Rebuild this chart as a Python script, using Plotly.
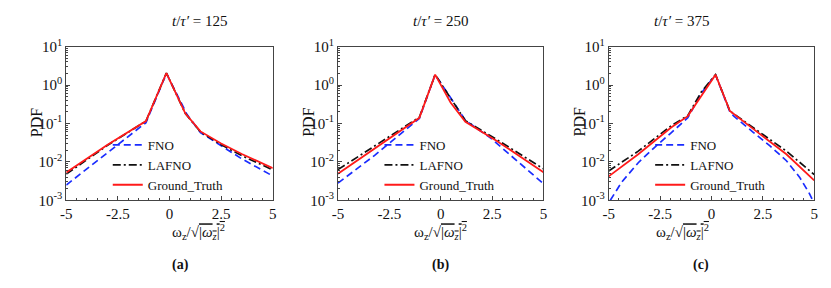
import plotly.graph_objects as go

# ---------------- data ----------------
panel_titles = ["125", "250", "375"]
panel_tags = ["(a)", "(b)", "(c)"]
x_ticks = [-5, -2.5, 0, 2.5, 5]
x_tick_labels = ["-5", "-2.5", "0", "2.5", "5"]
y_ticks = [1e-3, 1e-2, 1e-1, 1e0, 1e1]
y_tick_labels = ["10<sup>-3</sup>", "10<sup>-2</sup>", "10<sup>-1</sup>",
                 "10<sup>0</sup>", "10<sup>1</sup>"]

# panel (a)  t/tau' = 125
fno_a_x = [-5, -3, -1.14, -0.15, 0.5, 0.85, 1.5, 2.5, 3.5, 5]
fno_a_y = [2.5e-3, 0.017, 0.105, 2.0, 0.42, 0.17, 0.058, 0.026, 0.012, 4.3e-3]
lafno_a_x = [-5, -3, -1.14, -0.15, 0.77, 1.5, 2.5, 3.5, 5]
lafno_a_y = [4.8e-3, 0.027, 0.115, 2.05, 0.18, 0.06, 0.028, 0.0145, 6.2e-3]
gt_a_x = [-5, -3, -1.14, -0.15, 0.77, 1.5, 2.5, 3.5, 5]
gt_a_y = [5.3e-3, 0.028, 0.115, 2.05, 0.18, 0.062, 0.030, 0.016, 6.9e-3]

# panel (b)  t/tau' = 250
fno_b_x = [-5, -3.2, -1.04, -0.27, 0.5, 1.2, 2.4, 5]
fno_b_y = [2.8e-3, 0.015, 0.135, 1.86, 0.45, 0.12, 0.043, 2.7e-3]
lafno_b_x = [-5, -3, -1.04, -0.27, 0.5, 1.2, 2.73, 5]
lafno_b_y = [6.3e-3, 0.03, 0.145, 1.86, 0.43, 0.118, 0.038, 6.6e-3]
gt_b_x = [-5, -1.84, -1.04, -0.27, 0.48, 1.2, 2.73, 5]
gt_b_y = [4.9e-3, 0.074, 0.14, 1.86, 0.35, 0.11, 0.035, 5.4e-3]

# panel (c)  t/tau' = 375
fno_c_x = [-4.92, -4.36, -3.56, -2.76, -1.96, -1.15, -0.5, 0.2, 0.9, 1.09, 2.05, 2.85,
           3.65, 4.29, 4.77, 4.93]
fno_c_y = [1.0e-3, 3.0e-3, 9.5e-3, 0.024, 0.057, 0.14, 0.6, 1.86, 0.2, 0.155, 0.058,
           0.026, 0.0107, 4.0e-3, 1.5e-3, 1.0e-3]
lafno_c_x = [-5, -3.56, -1.96, -1.15, -0.5, 0.2, 0.9, 2.05, 3.65, 5]
lafno_c_y = [5.8e-3, 0.019, 0.087, 0.16, 0.65, 1.86, 0.21, 0.076, 0.019, 4.7e-3]
gt_c_x = [-5, -3.56, -1.96, -1.15, 0.2, 0.9, 2.05, 3.65, 5]
gt_c_y = [4.2e-3, 0.0158, 0.078, 0.155, 1.86, 0.21, 0.071, 0.0158, 3.3e-3]

panels = [
    (fno_a_x, fno_a_y, lafno_a_x, lafno_a_y, gt_a_x, gt_a_y),
    (fno_b_x, fno_b_y, lafno_b_x, lafno_b_y, gt_b_x, gt_b_y),
    (fno_c_x, fno_c_y, lafno_c_x, lafno_c_y, gt_c_x, gt_c_y),
]
series_names = ["FNO", "LAFNO", "Ground_Truth"]

# ---------------- style / layout ----------------
W, H = 831, 288
FONT = "Liberation Serif, Times New Roman, serif"
x_doms = [(61, 270), (336, 544), (610, 818)]
y_top, y_bot = 39, 203


def px_x(x):
    return x / W


def px_y(y):
    return 1 - y / H


styles = [dict(color="#1a2cff", dash="7px,4px", width=1.7),
          dict(color="#111111", dash="8px,3px,2px,3px", width=1.7),
          dict(color="#ff1a1a", dash="solid", width=1.8)]

minor_y = [m * 10 ** e for e in range(-3, 1) for m in range(2, 10)]

fig = go.Figure()
annotations = []
for i, p in enumerate(panels):
    sfx = "" if i == 0 else str(i + 1)
    legend_id = "legend" + sfx
    for k in range(3):
        fig.add_trace(go.Scatter(
            x=p[2 * k], y=p[2 * k + 1], mode="lines", name=series_names[k],
            line=styles[k], xaxis="x" + sfx, yaxis="y" + sfx,
            legend=legend_id, showlegend=True, cliponaxis=True))
    x0, x1 = x_doms[i]
    common = dict(showline=True, linecolor="#444", linewidth=1, mirror=True,
                  ticks="inside", ticklen=4, tickcolor="#444", showgrid=False,
                  zeroline=False, tickfont=dict(family=FONT, size=15, color="#111"))
    fig.update_layout(**{
        "xaxis" + sfx: dict(domain=[px_x(x0), px_x(x1)], range=[-5, 5],
                            tickvals=x_ticks, ticktext=x_tick_labels,
                            anchor="y" + sfx,
                            minor=dict(ticks="inside", ticklen=2, dtick=0.5,
                                       tickcolor="#444", showgrid=False),
                            **common),
        "yaxis" + sfx: dict(domain=[px_y(y_bot), px_y(y_top)], type="log",
                            range=[-3, 1], tickvals=y_ticks, ticktext=y_tick_labels,
                            anchor="x" + sfx,
                            minor=dict(ticks="inside", ticklen=2, tickvals=minor_y,
                                       tickcolor="#444", showgrid=False),
                            **common),
        legend_id: dict(x=px_x(x0 + 42), y=px_y(128), xanchor="left", yanchor="top",
                        bgcolor="rgba(0,0,0,0)", borderwidth=0,
                        font=dict(family=FONT, size=13, color="#111"),
                        tracegroupgap=0, itemwidth=30),
    })
    cx = px_x((x0 + x1) / 2)
    annotations += [
        dict(text="<i>t</i>/<i>τ′</i> = " + panel_titles[i], x=cx, y=px_y(12),
             xref="paper", yref="paper", showarrow=False, yanchor="middle",
             font=dict(family=FONT, size=15, color="#111")),
        dict(text="ω<sub>z</sub>/√<span style='text-decoration:overline'>|<i>ω<sub>z</sub></i>|<sup>2</sup></span>",
             x=cx, y=px_y(237), xref="paper", yref="paper", showarrow=False,
             yanchor="middle", font=dict(family=FONT, size=15, color="#111")),
        dict(text="<b>" + panel_tags[i] + "</b>", x=cx, y=px_y(272),
             xref="paper", yref="paper", showarrow=False, yanchor="middle",
             font=dict(family=FONT, size=14, color="#111")),
        dict(text="PDF", x=px_x(x0 - 30), y=px_y(120), xref="paper", yref="paper",
             showarrow=False, textangle=-90, yanchor="middle", xanchor="center",
             font=dict(family=FONT, size=16, color="#111")),
    ]

fig.update_layout(width=W, height=H, margin=dict(l=0, r=0, t=0, b=0),
                  paper_bgcolor="white", plot_bgcolor="white",
                  annotations=annotations, font=dict(family=FONT))
fig.write_html(
    "out.html",
    config={"displayModeBar": False},
    post_script="document.body.style.margin='0';document.body.style.overflow='hidden';",
)
